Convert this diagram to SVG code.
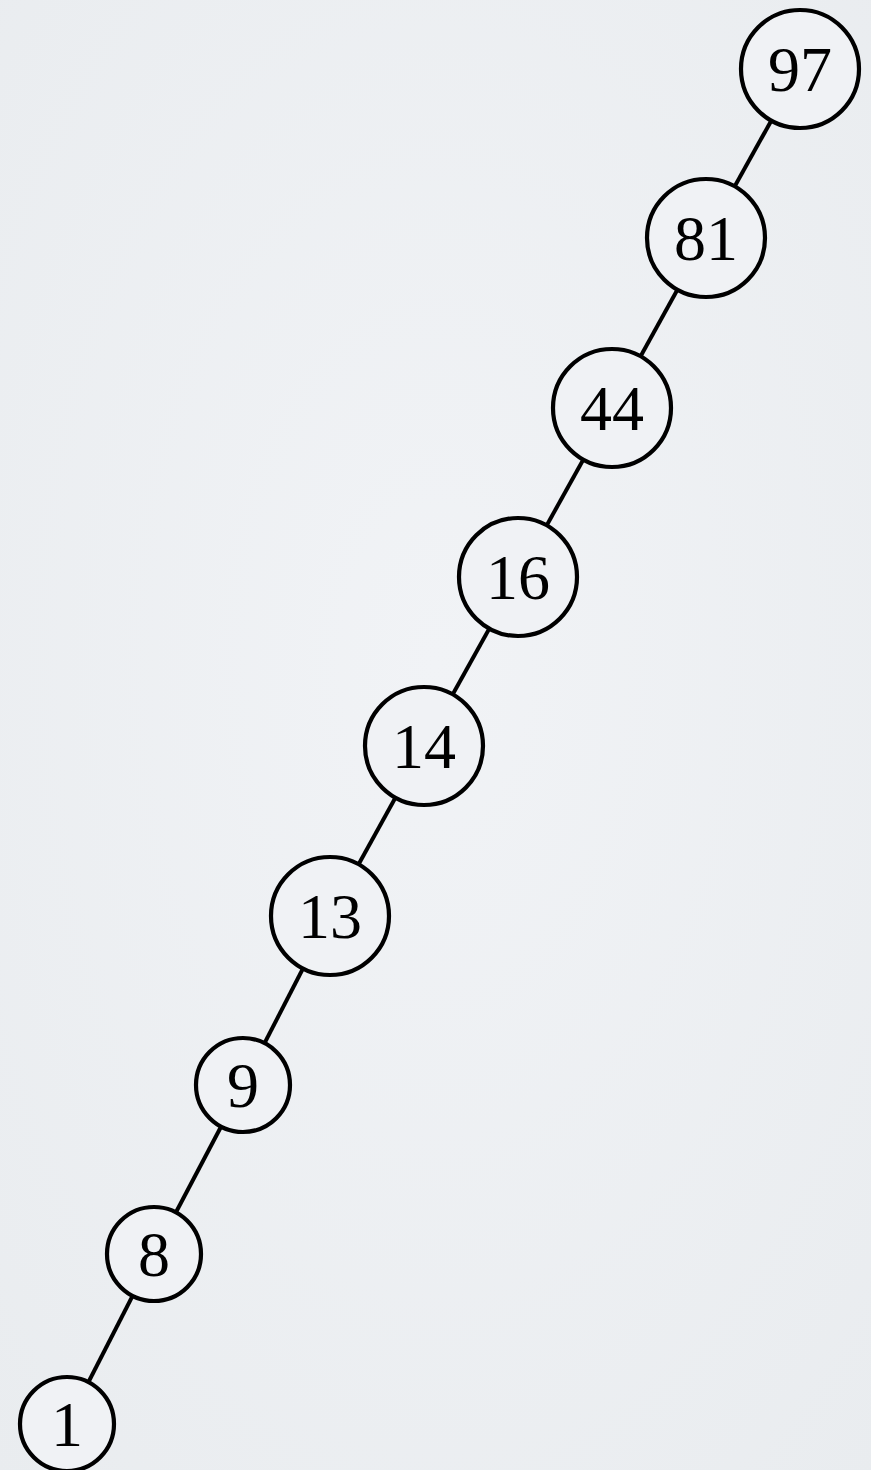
<svg xmlns="http://www.w3.org/2000/svg" width="871" height="1470" viewBox="0 0 871 1470">
<defs>
<radialGradient id="bg" cx="0.5" cy="0.45" r="0.75">
<stop offset="0" stop-color="#f1f3f6"/>
<stop offset="1" stop-color="#e9ecef"/>
</radialGradient>
</defs>
<style>
.n circle{fill:#f0f2f5;stroke:#000;stroke-width:4.2}
.n text{font-family:"Liberation Serif",serif;font-size:64px;text-anchor:middle;fill:#000}
#edges line{stroke:#000;stroke-width:4}
</style>
<rect width="871" height="1470" fill="url(#bg)"/>
<g id="edges">
<line x1="800" y1="69" x2="706" y2="238"/>
<line x1="706" y1="238" x2="612" y2="408"/>
<line x1="612" y1="408" x2="518" y2="577"/>
<line x1="518" y1="577" x2="424" y2="746"/>
<line x1="424" y1="746" x2="330" y2="916"/>
<line x1="330" y1="916" x2="243" y2="1085"/>
<line x1="243" y1="1085" x2="154" y2="1254"/>
<line x1="154" y1="1254" x2="67" y2="1424"/>
</g>
<g id="n97" class="n"><circle cx="800" cy="69" r="59"/><text x="800" y="91">97</text></g>
<g id="n81" class="n"><circle cx="706" cy="238" r="59"/><text x="706" y="260">81</text></g>
<g id="n44" class="n"><circle cx="612" cy="408" r="59"/><text x="612" y="430">44</text></g>
<g id="n16" class="n"><circle cx="518" cy="577" r="59"/><text x="518" y="599">16</text></g>
<g id="n14" class="n"><circle cx="424" cy="746" r="59"/><text x="424" y="768">14</text></g>
<g id="n13" class="n"><circle cx="330" cy="916" r="59"/><text x="330" y="938">13</text></g>
<g id="n9" class="n"><circle cx="243" cy="1085" r="47"/><text x="243" y="1107">9</text></g>
<g id="n8" class="n"><circle cx="154" cy="1254" r="47"/><text x="154" y="1276">8</text></g>
<g id="n1" class="n"><circle cx="67" cy="1424" r="47"/><text x="67" y="1446">1</text></g>
</svg>
